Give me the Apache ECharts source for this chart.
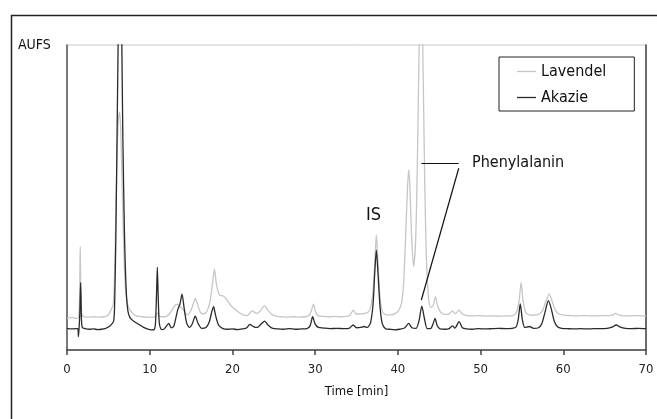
<!DOCTYPE html>
<html>
<head>
<meta charset="utf-8">
<script src="https://cdn.jsdelivr.net/npm/echarts@6/dist/echarts.min.js"></script>
<style>html,body{margin:0;padding:0;background:#fff;}#c{width:657px;height:419px;}</style>
</head>
<body>
<div id="c"></div>
<script>
var FONT = "'Liberation Sans Narrow', 'DejaVu Sans Condensed', 'Arial Narrow', sans-serif";
var xTicks = [0, 10, 20, 30, 40, 50, 60, 70];
var seriesNames = ['Lavendel', 'Akazie'];

var akazieTime = [0.0,0.5,1.0,1.3,1.38,1.45,1.55,1.65,1.75,1.85,2.2,2.7,3.2,3.7,4.2,4.6,4.9,5.2,5.5,5.65,5.75,5.9,6.05,6.2,6.4,6.6,6.75,6.95,7.15,7.35,7.6,7.9,8.3,8.8,9.2,9.7,10.2,10.55,10.7,10.82,10.92,11.02,11.15,11.35,11.6,11.9,12.3,12.6,12.9,13.2,13.4,13.65,13.9,14.15,14.45,14.8,15.15,15.5,15.85,16.3,16.8,17.2,17.5,17.72,17.95,18.3,18.8,19.4,20.0,20.6,21.2,21.7,22.1,22.6,23.0,23.5,23.9,24.3,24.8,25.5,26.2,26.9,27.6,28.3,29.0,29.4,29.7,30.0,30.4,31.0,31.8,32.6,33.4,34.1,34.6,35.0,35.5,35.9,36.3,36.7,37.0,37.2,37.4,37.6,37.85,38.1,38.5,39.0,39.6,40.2,40.8,41.3,41.7,42.2,42.55,42.9,43.2,43.55,44.0,44.25,44.5,44.75,45.1,45.7,46.2,46.6,46.9,47.4,47.8,48.3,49.0,49.8,50.6,51.4,52.2,53.0,53.8,54.3,54.55,54.8,55.05,55.35,55.9,56.4,57.0,57.4,57.8,58.2,58.55,58.9,59.3,59.8,60.5,61.3,62.1,62.9,63.7,64.5,65.3,65.9,66.4,66.9,67.5,68.3,69.1,70.0];
var akazieValue = [7.1,6.9,7.0,7.0,4.4,6.8,12,22.1,10,7.4,7.0,6.8,6.9,6.7,6.8,7.0,7.4,7.9,8.8,9.6,14,36,70,105,150,108,70,38,20,13,10.7,9.8,9.0,8.2,7.5,6.9,6.6,6.7,9,18,27.1,18,9,6.9,6.7,7.4,8.7,7.3,7.8,11,13.3,15,18.3,14,9,7.4,8.6,11.1,8.7,7.1,7.4,9.2,12.5,14.2,11.5,8.3,7.1,6.8,6.9,6.7,6.9,7.2,8.4,7.6,7.4,8.6,9.5,8.2,7.2,6.9,6.8,7.0,6.8,6.9,7.0,8.0,10.9,8.5,7.4,7.2,7.0,7.1,7.0,7.1,8.2,7.3,7.4,7.7,7.4,9.0,15,25,32.7,25,14,8.8,7.0,6.8,6.6,6.8,7.2,8.7,7.3,7.1,9.5,14.4,10.5,7.0,7.1,8.5,10.4,8.0,6.9,6.8,7.0,7.9,7.2,9.3,7.3,6.9,6.8,7.0,6.9,7.0,7.1,7.0,7.1,7.6,10,15.1,10,7.4,7.7,7.1,7.3,8.6,12.5,16.2,13.5,9.5,7.6,7.1,7.0,6.9,7.0,6.9,7.0,7.0,7.1,7.5,8.2,7.5,7.1,7.0,7.1,7.0];

var lavendelTime = [0.0,0.6,1.1,1.4,1.52,1.6,1.68,1.8,2.1,2.7,3.3,3.9,4.5,4.9,5.15,5.35,5.6,5.8,6.0,6.2,6.35,6.5,6.7,6.9,7.1,7.4,7.7,8.0,8.5,9.0,9.6,10.2,10.7,10.95,11.2,11.6,12.1,12.5,12.9,13.3,13.7,14.1,14.5,14.9,15.2,15.5,15.8,16.1,16.5,16.9,17.3,17.6,17.82,18.1,18.45,18.9,19.3,19.8,20.3,20.8,21.3,21.8,22.4,22.9,23.3,23.6,23.9,24.3,24.8,25.4,26.0,26.7,27.4,28.1,28.8,29.3,29.55,29.8,30.05,30.4,31.0,31.7,32.4,33.1,33.8,34.25,34.6,34.95,35.3,35.9,36.3,36.65,36.95,37.2,37.4,37.6,37.85,38.15,38.6,39.2,39.7,40.1,40.45,40.7,40.95,41.15,41.3,41.45,41.65,41.9,42.15,42.35,42.55,42.8,43.05,43.25,43.45,43.7,43.95,44.25,44.55,44.8,45.2,45.7,46.2,46.6,46.95,47.4,47.8,48.4,49.1,49.9,50.7,51.5,52.3,53.1,53.9,54.35,54.65,54.9,55.15,55.45,55.9,56.5,57.1,57.5,57.9,58.3,58.7,59.05,59.5,60.1,60.9,61.7,62.5,63.3,64.1,64.9,65.6,66.0,66.3,66.7,67.3,68.1,68.9,70.0];
var lavendelValue = [10.5,10.6,10.4,10.6,18,33.9,18,11.5,10.9,10.8,10.9,10.8,10.9,11.3,12.2,13.3,15,30,58,75,78,72,50,30,19,14.2,12.8,11.8,11.1,10.9,10.8,10.7,10.9,12.2,11.0,10.9,11.1,12.3,14,15,14.2,13,11.5,12.5,14.5,16.9,14.8,12.5,11.8,12.6,16,22,26.5,21,18,17.7,16.5,14.6,13.4,12.3,11.5,11.3,12.8,12.0,12.6,13.8,14.5,13,11.6,11.0,10.9,10.8,10.9,10.8,10.9,11.5,13,15.0,12.5,11.2,11.0,10.9,11.0,10.9,11.0,11.5,13.1,11.8,11.8,12.0,12.2,13.5,18,28,37.7,29,17,12.5,11.5,11.5,12.0,13,15.5,22,38,52,59,54,38,27.3,36,60,95,130,92,55,30,17.5,14,14.5,17.5,14.5,12.3,11.7,11.8,12.8,11.9,13.1,11.8,11.3,11.2,11.3,11.1,11.2,11.1,11.2,11.3,12.5,16,22.1,16,12.3,11.5,11.4,11.8,13,16,18.4,15.5,13,11.8,11.4,11.3,11.2,11.3,11.2,11.2,11.3,11.3,11.5,12.0,11.5,11.2,11.2,11.3,11.2];

// annotation leader lines for "Phenylalanin" (data coordinates)
var pheLabelLineH = [[42.84, 61.2], [47.36, 61.2]];
var pheLabelLineD = [[47.36, 59.6], [42.84, 16.4]];

function pairs(t, v) { return t.map(function (x, i) { return [x, v[i]]; }); }

var chart = echarts.init(document.getElementById('c'), null, { renderer: 'canvas' });
chart.setOption({
  animation: false,
  backgroundColor: '#fff',
  textStyle: { fontFamily: FONT },
  grid: { left: 67, right: 11, top: 45, bottom: 69, show: true, borderColor: '#c8c8c8', borderWidth: 1 },
  legend: {
    data: seriesNames,
    orient: 'vertical',
    left: 499, top: 57,
    padding: [5, 28, 4, 18],
    itemGap: 7,
    icon: 'rect',
    itemWidth: 19, itemHeight: 1.3,
    backgroundColor: '#fff',
    borderColor: '#222', borderWidth: 1, borderRadius: 0,
    textStyle: { fontFamily: FONT, fontSize: 16, lineHeight: 19, color: '#111' },
    selectedMode: false
  },
  xAxis: {
    type: 'value', min: 0, max: 70, interval: 10,
    name: 'Time [min]', nameLocation: 'middle', nameGap: 35,
    nameTextStyle: { fontFamily: FONT, fontSize: 13, color: '#111' },
    axisLine: { lineStyle: { color: '#444', width: 1.5 } },
    axisTick: { show: true, length: 5, inside: false, lineStyle: { color: '#444', width: 1.5 } },
    axisLabel: { fontFamily: FONT, fontSize: 13, color: '#222', margin: 13,
      formatter: function (v) { return xTicks.indexOf(v) >= 0 ? String(v) : ''; } },
    splitLine: { show: false }
  },
  yAxis: [{
    type: 'value', min: 0, max: 100, position: 'left',
    axisLine: { show: true, lineStyle: { color: '#555', width: 1.5 } },
    axisTick: { show: false }, axisLabel: { show: false }, splitLine: { show: false }
  }, {
    type: 'value', min: 0, max: 100, position: 'right',
    axisLine: { show: true, lineStyle: { color: '#444', width: 1.5 } },
    axisTick: { show: false }, axisLabel: { show: false }, splitLine: { show: false }
  }],
  series: [{
    name: 'Lavendel', type: 'line', data: pairs(lavendelTime, lavendelValue),
    symbol: 'none', smooth: 0.25, clip: true,
    lineStyle: { color: '#c6c6c6', width: 1.3 }, itemStyle: { color: '#c6c6c6' }
  }, {
    name: 'Akazie', type: 'line', data: pairs(akazieTime, akazieValue),
    symbol: 'none', smooth: 0.25, clip: true,
    lineStyle: { color: '#2a2a2a', width: 1.3 }, itemStyle: { color: '#2a2a2a' },
    markLine: {
      silent: true, symbol: ['none', 'none'], animation: false,
      label: { show: false },
      lineStyle: { color: '#111', width: 1.2, type: 'solid' },
      data: [
        [{ coord: pheLabelLineH[0] }, { coord: pheLabelLineH[1] }],
        [{ coord: pheLabelLineD[0] }, { coord: pheLabelLineD[1] }]
      ]
    }
  }],
  graphic: [
    { type: 'rect', left: 9, top: 13, shape: { x: 0, y: 0, width: 700, height: 500 },
      style: { fill: 'none', stroke: '#222', lineWidth: 1.5 }, silent: true, z: 100 },
    { type: 'text', left: 18, top: 38, style: { text: 'AUFS', font: '14px ' + FONT, fill: '#111' } },
    { type: 'text', left: 366, top: 206, style: { text: 'IS', font: '18px ' + FONT, fill: '#111' } },
    { type: 'text', left: 472, top: 155, style: { text: 'Phenylalanin', font: '16px ' + FONT, fill: '#111' } }
  ]
});
</script>
</body>
</html>
